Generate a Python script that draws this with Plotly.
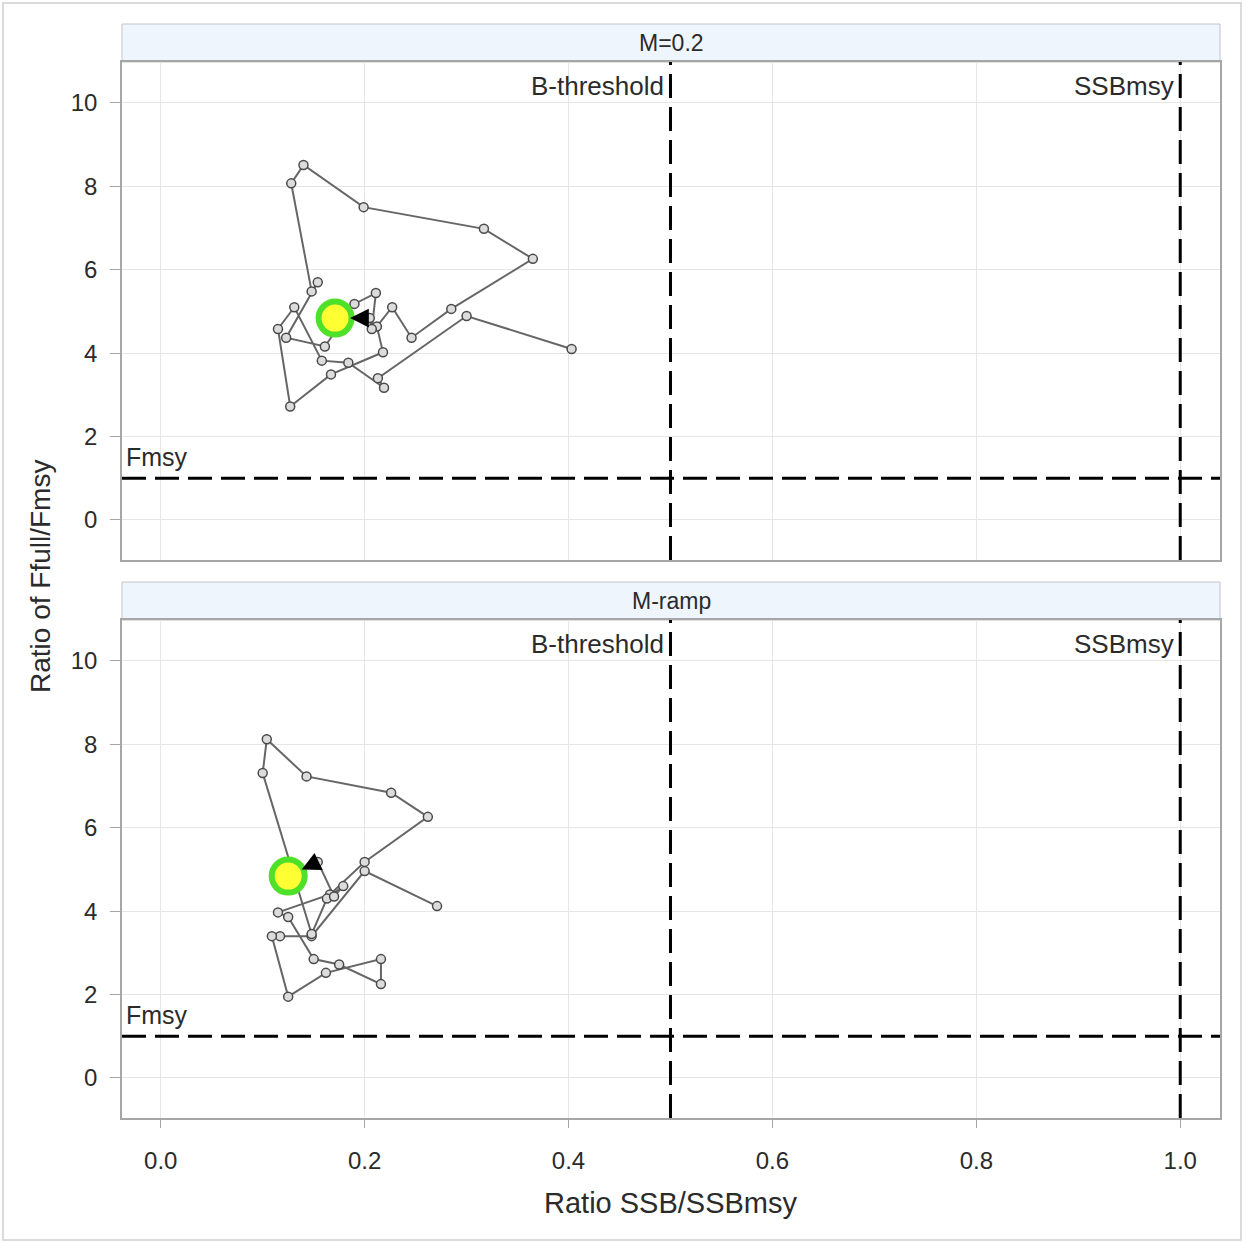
import plotly.graph_objects as go

# ---------------- data ----------------
panel_names = ["M=0.2", "M-ramp"]

top_ssb = [0.403, 0.300, 0.213, 0.219, 0.184, 0.158, 0.131, 0.115, 0.127, 0.167,
           0.218, 0.212, 0.227, 0.246, 0.285, 0.365, 0.317, 0.199, 0.140, 0.128,
           0.148, 0.154, 0.123, 0.161, 0.190, 0.211, 0.207, 0.205, 0.171]
top_f = [4.10, 4.89, 3.40, 3.17, 3.77, 3.82, 5.10, 4.58, 2.72, 3.49,
         4.02, 4.64, 5.10, 4.37, 5.06, 6.26, 6.98, 7.50, 8.51, 8.07,
         5.48, 5.70, 4.37, 4.16, 5.18, 5.44, 4.58, 4.84, 4.84]

bot_ssb = [0.271, 0.200, 0.148, 0.117, 0.109, 0.125, 0.162, 0.216, 0.216, 0.175,
           0.150, 0.125, 0.115, 0.166, 0.200, 0.262, 0.226, 0.143, 0.104, 0.100,
           0.148, 0.163, 0.179, 0.170, 0.154, 0.125]
bot_f = [4.12, 4.96, 3.40, 3.40, 3.40, 1.95, 2.52, 2.85, 2.25, 2.72,
         2.85, 3.86, 3.97, 4.40, 5.18, 6.26, 6.84, 7.23, 8.12, 7.31,
         3.45, 4.30, 4.60, 4.35, 5.18, 4.84]

ref_ssb = [0.5, 1.0]
ref_ssb_labels = ["B-threshold", "SSBmsy"]
ref_f = 1.0
ref_f_label = "Fmsy"

x_ticks = [0.0, 0.2, 0.4, 0.6, 0.8, 1.0]
y_ticks = [0, 2, 4, 6, 8, 10]

series = [(top_ssb, top_f), (bot_ssb, bot_f)]

# ---------------- layout geometry ----------------
W, H = 1247, 1243
xdom = [122 / W, 1220 / W]
plot_px = [(62, 560), (620, 1118)]
head_px = [(24, 62), (582, 620)]


def py(p):
    return 1 - p / H


FONT = "Liberation Sans, Arial, sans-serif"
TXT = "#2b2b2b"
GRID = "#e6e6e6"
FRAME = "#a6a6a6"

fig = go.Figure()
shapes = []
annotations = []

for i, (xs, ys) in enumerate(series):
    xa = "x" if i == 0 else "x2"
    ya = "y" if i == 0 else "y2"
    # trajectory line with open markers
    fig.add_trace(go.Scatter(
        x=xs, y=ys, xaxis=xa, yaxis=ya, mode="lines+markers",
        line=dict(color="#666666", width=2),
        marker=dict(symbol="circle", size=9, color="#dcdcdc",
                    line=dict(color="#4a4a4a", width=1.5)),
        showlegend=False, hoverinfo="skip"))
    # arrow on final segment
    annotations.append(dict(
        x=xs[-1], y=ys[-1], ax=xs[-2], ay=ys[-2],
        xref=xa, yref=ya, axref=xa, ayref=ya,
        showarrow=True, arrowhead=2, arrowsize=1.5, arrowwidth=2.5,
        arrowcolor="#000000", standoff=15, text=""))
    # highlighted last point
    fig.add_trace(go.Scatter(
        x=[xs[-1]], y=[ys[-1]], xaxis=xa, yaxis=ya, mode="markers",
        marker=dict(symbol="circle", size=33, color="#ffff33",
                    line=dict(color="#4fe02a", width=6)),
        showlegend=False, hoverinfo="skip"))

    # reference lines
    for rx, lab in zip(ref_ssb, ref_ssb_labels):
        shapes.append(dict(type="line", xref=xa, yref=ya + " domain",
                           x0=rx, x1=rx, y0=0, y1=1,
                           line=dict(color="black", width=3, dash="24px,9px")))
        annotations.append(dict(x=rx, y=1, xref=xa, yref=ya + " domain",
                                xanchor="right", yanchor="top", xshift=-4, yshift=-7,
                                text=lab, showarrow=False,
                                font=dict(family=FONT, size=26, color=TXT)))
    shapes.append(dict(type="line", xref=xa + " domain", yref=ya,
                       x0=0, x1=1, y0=ref_f, y1=ref_f,
                       line=dict(color="black", width=3, dash="24px,9px")))
    annotations.append(dict(x=0, y=ref_f, xref=xa + " domain", yref=ya,
                            xanchor="left", yanchor="bottom", xshift=2, yshift=5,
                            text=ref_f_label, showarrow=False,
                            font=dict(family=FONT, size=25, color=TXT)))

    # header strip
    h0, h1 = head_px[i]
    shapes.append(dict(type="rect", xref="paper", yref="paper",
                       x0=xdom[0], x1=xdom[1], y0=py(h1), y1=py(h0),
                       fillcolor="#eff5fc", line=dict(color="#c4c4c4", width=1),
                       layer="below"))
    annotations.append(dict(x=(xdom[0] + xdom[1]) / 2, y=py((h0 + h1) / 2),
                            xref="paper", yref="paper", xanchor="center", yanchor="middle",
                            text=panel_names[i], showarrow=False,
                            font=dict(family=FONT, size=23, color=TXT)))

# outer frame
shapes.append(dict(type="rect", xref="paper", yref="paper",
                   x0=3 / W, x1=1241 / W, y0=py(1240), y1=py(3),
                   line=dict(color="#d0d0d0", width=1.5), fillcolor="rgba(0,0,0,0)",
                   layer="below"))

# axis titles
annotations.append(dict(x=671 / W, y=py(1203), xref="paper", yref="paper",
                        text="Ratio SSB/SSBmsy", showarrow=False,
                        xanchor="center", yanchor="middle",
                        font=dict(family=FONT, size=29, color=TXT)))
annotations.append(dict(x=40 / W, y=py(577), xref="paper", yref="paper",
                        text="Ratio of Ffull/Fmsy", showarrow=False, textangle=-90,
                        xanchor="center", yanchor="middle",
                        font=dict(family=FONT, size=28, color=TXT)))

xcommon = dict(range=[-0.038, 1.039], domain=xdom, tickvals=x_ticks,
               tickformat=".1f", showgrid=True, gridcolor=GRID, gridwidth=1,
               zeroline=False, showline=True, linecolor=FRAME, linewidth=1.5,
               mirror=True, tickfont=dict(family=FONT, size=24, color=TXT),
               tickcolor=FRAME)
ycommon = dict(range=[-0.96, 10.98], tickvals=y_ticks,
               showgrid=True, gridcolor=GRID, gridwidth=1,
               zeroline=False, showline=True, linecolor=FRAME, linewidth=1.5,
               mirror=True, tickfont=dict(family=FONT, size=24, color=TXT),
               ticks="outside", ticklen=10, tickcolor=FRAME, ticklabelstandoff=8)

fig.update_layout(
    width=W, height=H,
    margin=dict(l=0, r=0, t=0, b=0),
    paper_bgcolor="white", plot_bgcolor="white",
    xaxis=dict(**xcommon, anchor="y", showticklabels=False, ticks=""),
    yaxis=dict(**ycommon, anchor="x",
               domain=[py(plot_px[0][1]), py(plot_px[0][0])]),
    xaxis2=dict(**xcommon, anchor="y2", ticks="outside", ticklen=8,
                ticklabelstandoff=12),
    yaxis2=dict(**ycommon, anchor="x2",
                domain=[py(plot_px[1][1]), py(plot_px[1][0])]),
    shapes=shapes, annotations=annotations,
)

fig.write_html("out.html")
